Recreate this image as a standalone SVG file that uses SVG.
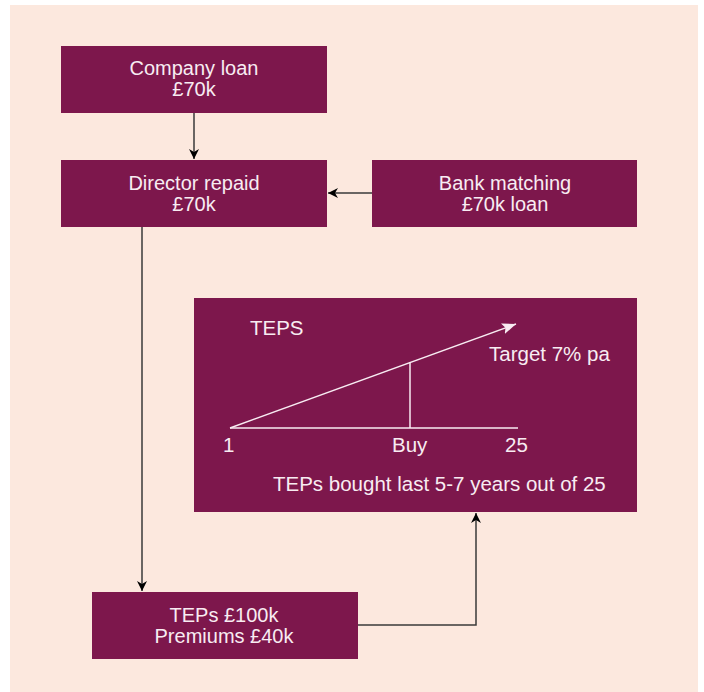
<svg xmlns="http://www.w3.org/2000/svg" width="704" height="692" viewBox="0 0 704 692">
  <defs>
    <style>
      .box { fill: #7d174c; }
      .lbl { font-family: "Liberation Sans", Arial, sans-serif; font-size: 20px; fill: #f8ecf2; text-anchor: middle; }
      .ch { font-family: "Liberation Sans", Arial, sans-serif; font-size: 20.5px; fill: #f8ecf2; }
      .conn { fill: none; stroke: #3a3a3a; stroke-width: 1.5; }
      .axis { fill: none; stroke: #f8ecf2; stroke-width: 1.5; }
    </style>
    <marker id="arr" viewBox="0 0 10 10" refX="10" refY="5" markerWidth="10" markerHeight="10" markerUnits="userSpaceOnUse" orient="auto">
      <path d="M0,0 L10,5 L0,10 L3,5 Z" fill="#000"/>
    </marker>
    <marker id="arrw" viewBox="0 0 10 10" refX="10" refY="5" markerWidth="14" markerHeight="14" markerUnits="userSpaceOnUse" orient="auto">
      <path d="M0,1 L10,5 L0,9 L2,5 Z" fill="#f8ecf2"/>
    </marker>
  </defs>

  <rect x="10" y="5" width="688" height="687" fill="#fce8de"/>

  <g id="connectors">
    <line class="conn" x1="194" y1="113" x2="194" y2="159" marker-end="url(#arr)"/>
    <line class="conn" x1="372" y1="193" x2="328" y2="193" marker-end="url(#arr)"/>
    <line class="conn" x1="142" y1="227" x2="142" y2="591" marker-end="url(#arr)"/>
    <polyline class="conn" points="357,625 476,625 476,513" marker-end="url(#arr)"/>
  </g>

  <g id="company-loan">
    <rect class="box" x="61" y="46" width="266" height="67"/>
    <text class="lbl" x="194" y="75">Company loan</text>
    <text class="lbl" x="194" y="96">£70k</text>
  </g>

  <g id="director-repaid">
    <rect class="box" x="61" y="160" width="266" height="67"/>
    <text class="lbl" x="194" y="190">Director repaid</text>
    <text class="lbl" x="194" y="211">£70k</text>
  </g>

  <g id="bank-matching">
    <rect class="box" x="372" y="160" width="265" height="67"/>
    <text class="lbl" x="505" y="190">Bank matching</text>
    <text class="lbl" x="505" y="211">£70k loan</text>
  </g>

  <g id="teps">
    <rect class="box" x="194" y="298" width="443" height="214"/>
    <text class="ch" x="250" y="335">TEPS</text>
    <line class="axis" x1="230" y1="428" x2="516" y2="324" marker-end="url(#arrw)"/>
    <line class="axis" x1="230" y1="428" x2="518" y2="428"/>
    <line class="axis" x1="410" y1="362" x2="410" y2="428"/>
    <text class="ch" x="489" y="361">Target 7% pa</text>
    <text class="ch" x="223" y="452">1</text>
    <text class="ch" x="392" y="452">Buy</text>
    <text class="ch" x="505" y="452">25</text>
    <text class="ch" x="273" y="491">TEPs bought last 5-7 years out of 25</text>
  </g>

  <g id="teps-premiums">
    <rect class="box" x="92" y="592" width="266" height="67"/>
    <text class="lbl" x="224" y="622">TEPs £100k</text>
    <text class="lbl" x="224" y="643">Premiums £40k</text>
  </g>
</svg>
